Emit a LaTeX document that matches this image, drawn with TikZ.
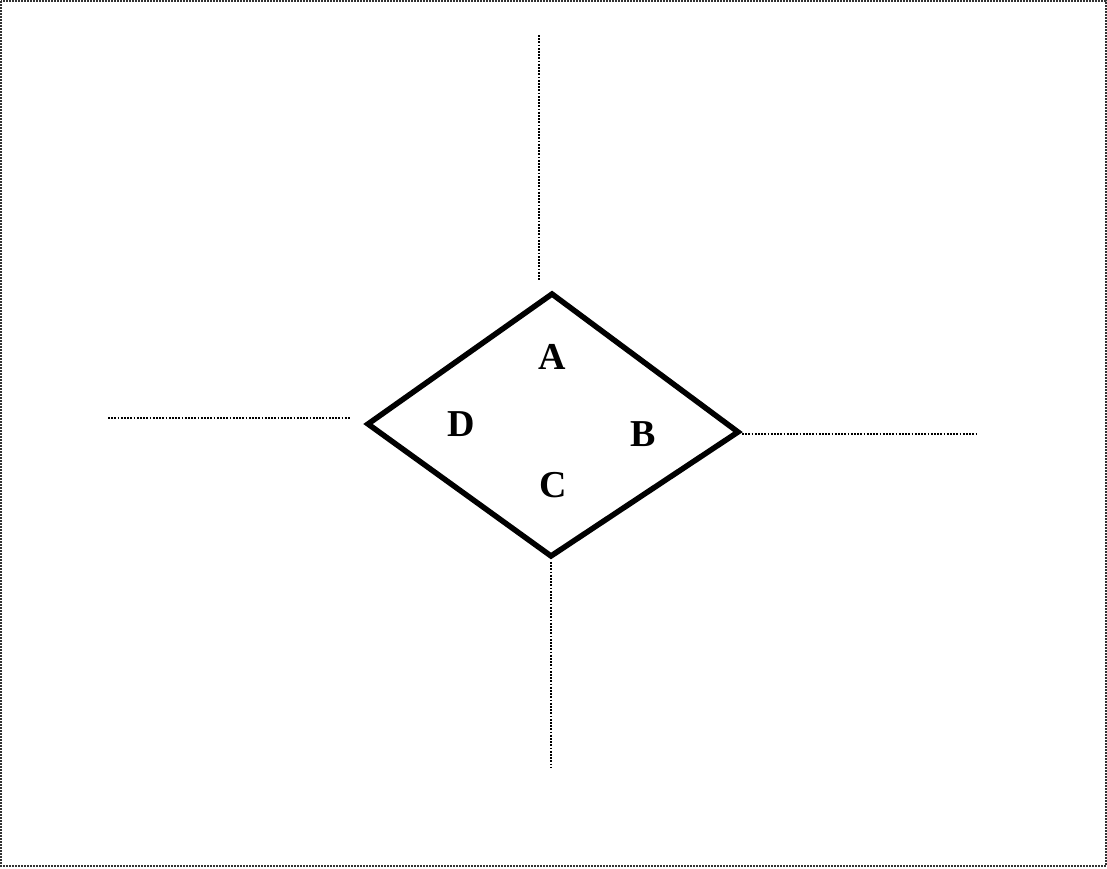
\documentclass[tikz,border=0pt]{standalone}
\usepackage{fontspec}
\setmainfont{Liberation Serif}
\begin{document}
\begin{tikzpicture}[x=1pt,y=-1pt,
  dotline/.style={line width=2.2pt,dash pattern=on 1.8pt off 1.4pt},
  frameline/.style={line width=2.2pt,dash pattern=on 1.8pt off 1.2pt,black!80},
  rhomb/.style={line width=5.5pt,line join=miter},
  lab/.style={font=\fontsize{38}{40}\selectfont\bfseries,inner sep=0pt}]
\useasboundingbox (0,0) rectangle (1107,868);
\draw[frameline] (1,1) rectangle (1106,866);
\coordinate (T) at (552,294);
\coordinate (R) at (738,432);
\coordinate (Bt) at (551,556);
\coordinate (L) at (368,424);
\draw[rhomb] (T) -- (R) -- (Bt) -- (L) -- cycle;
\coordinate (t1) at (539,35);
\coordinate (t2) at (539,281);
\coordinate (l1) at (108,418);
\coordinate (l2) at (350,418);
\coordinate (r1) at (742,434);
\coordinate (r2) at (978,434);
\coordinate (b1) at (551,562);
\coordinate (b2) at (551,768);
\draw[dotline] (t1) -- (t2);
\draw[dotline] (l1) -- (l2);
\draw[dotline] (r1) -- (r2);
\draw[dotline] (b1) -- (b2);
\node[lab] (A) at (552,357) {A};
\node[lab] (B) at (643,434) {B};
\node[lab] (C) at (553,485) {C};
\node[lab] (D) at (461,424) {D};
\end{tikzpicture}
\end{document}
